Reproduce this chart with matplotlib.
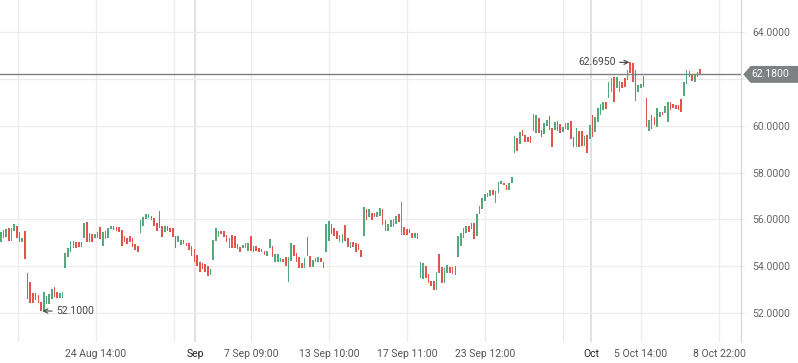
import matplotlib
matplotlib.use("Agg")
import matplotlib.pyplot as plt
import matplotlib.transforms as mtransforms
from matplotlib.patches import Polygon
import numpy as np

# candle open / close values, oldest first
opens = [
    55.04, 55.21, 55.25, 55.64, 55.08, 55.51, 55.72, 55.47, 55.04, 55.51,
    53.72, 53.34, 52.87, 52.87, 52.78, 52.48, 52.10, 52.40, 52.40, 52.61,
    53.12, 52.91, 52.65, 52.65, 53.93, 54.40, 54.61, 54.78, 55.04, 55.04,
    55.04, 55.21, 55.89, 55.42, 55.38, 55.21, 55.21, 55.68, 54.87, 55.17,
    55.21, 55.61, 55.72, 55.68, 55.68, 55.55, 55.29, 55.21, 55.29, 55.21,
    54.95, 54.87, 55.42, 55.72, 56.02, 56.06, 56.15, 56.06, 55.85, 56.36,
    55.72, 55.47, 55.72, 55.64, 55.64, 55.29, 55.04,
    54.91, 55.13, 55.00, 55.00, 54.87, 54.74, 54.49, 54.19, 54.15, 54.10,
    54.02, 53.63, 54.27, 55.08, 55.25, 55.51, 55.51, 55.34, 54.78, 55.34,
    55.29, 54.95, 54.83, 54.78, 54.78, 54.66, 55.29, 54.87, 54.87, 54.78,
    54.74, 54.66, 54.44, 54.78, 54.87, 54.19, 54.19, 54.19, 54.32, 54.40,
    53.34, 54.23, 54.91, 54.57, 54.40, 54.15, 53.93, 55.25, 54.44, 53.97,
    54.19, 54.19, 54.36, 54.19, 54.61, 55.08, 55.81, 55.64, 55.51, 55.04,
    55.00, 55.77, 55.21, 54.78, 55.04, 55.00, 54.95, 54.70,
    55.29, 56.45, 56.11, 56.28, 56.28, 56.11, 56.15, 56.45, 55.98, 55.51,
    55.68, 55.68, 55.81, 56.23, 55.34, 55.68, 55.61, 55.61, 55.42, 55.21,
    55.42, 53.51, 53.48, 54.02, 53.68, 53.38, 53.38, 53.00, 54.53, 53.97,
    53.29, 53.72, 53.97, 53.97, 54.02, 54.40, 54.87, 55.21, 55.42, 55.72,
    55.85, 55.85, 55.29, 56.23, 56.45, 56.79, 56.96, 57.00, 57.26, 56.70,
    57.13, 57.51, 57.55, 57.47, 57.26, 57.55,
    58.83, 59.47, 59.22, 59.81, 59.60, 59.51, 59.56, 59.77, 59.68, 60.32,
    59.81, 59.64, 59.98, 60.41, 59.90, 59.81, 60.20, 60.07, 59.73, 59.86,
    59.81, 60.20, 59.51, 59.09, 59.77, 59.77, 59.13, 59.60, 59.43,
    60.45, 59.73, 60.15, 60.45, 60.67, 61.01, 61.18, 61.43, 62.07, 61.60,
    61.43, 61.86, 62.03, 61.94, 62.695, 62.68, 62.37, 61.43, 61.60, 62.11,
    61.18, 59.77, 60.45, 60.37, 59.94, 60.37, 60.58, 60.54, 60.15, 61.01,
    60.92, 60.88, 60.88, 61.13, 61.26, 61.77, 62.33, 62.16, 61.86, 62.07,
    62.41,
]
closes = [
    55.47, 55.55, 55.61, 55.08, 55.64, 55.81, 55.21, 55.04, 55.21, 54.32,
    52.61, 52.44, 52.44, 52.57, 52.44, 52.10, 52.91, 52.74, 52.83, 53.04,
    52.70, 52.65, 52.87, 52.91, 54.57, 54.78, 55.08, 55.08, 54.78, 54.83,
    54.83, 55.85, 55.04, 55.04, 55.04, 55.38, 55.47, 55.17, 55.47, 55.51,
    55.64, 55.72, 55.55, 55.51, 55.47, 54.87, 55.04, 54.95, 55.04, 54.83,
    54.70, 54.61, 55.98, 56.11, 56.23, 56.23, 55.98, 55.72, 55.51, 55.64,
    55.25, 55.72, 55.51, 55.47, 55.25, 54.78, 55.29,
    55.13, 54.95, 54.87, 54.70, 54.44, 54.19, 54.02, 53.76, 53.89, 53.76,
    53.59, 53.89, 55.13, 55.64, 55.51, 55.38, 55.25, 55.04, 55.21, 54.78,
    54.78, 54.74, 54.61, 54.91, 55.00, 55.00, 54.66, 54.61, 54.66, 54.61,
    54.61, 54.49, 54.66, 55.17, 54.40, 54.53, 54.53, 54.36, 54.19, 54.02,
    54.40, 55.00, 54.44, 54.19, 53.93, 53.93, 54.36, 54.44, 53.97, 54.27,
    54.36, 54.40, 54.19, 53.93, 55.81, 55.93, 55.38, 55.29, 55.17, 55.34,
    55.38, 55.08, 54.83, 55.04, 54.83, 54.61, 54.70, 54.40,
    56.53, 55.98, 56.45, 55.98, 56.11, 56.32, 56.49, 55.77, 55.51, 55.81,
    55.98, 56.02, 56.15, 55.89, 56.74, 55.34, 55.34, 55.42, 55.21, 55.42,
    55.17, 54.19, 54.15, 53.51, 53.29, 53.17, 53.00, 53.76, 53.72, 53.29,
    53.93, 54.06, 53.72, 53.68, 53.63, 55.29, 55.42, 55.64, 55.72, 55.47,
    55.61, 55.17, 56.23, 56.57, 56.92, 57.09, 57.13, 57.26, 57.04, 57.21,
    57.60, 57.64, 57.47, 57.26, 57.55, 57.81,
    59.56, 58.92, 59.73, 59.56, 59.30, 59.30, 59.26, 60.49, 60.45, 59.68,
    59.51, 60.11, 60.24, 59.81, 59.09, 60.15, 59.77, 59.68, 59.94, 60.11,
    60.11, 59.43, 59.09, 59.90, 59.09, 59.13, 59.56, 58.83, 60.03,
    59.51, 60.37, 60.75, 60.92, 61.01, 60.71, 61.86, 62.03, 61.01, 62.07,
    61.90, 61.60, 61.64, 62.37, 62.24, 61.86, 61.05, 61.73, 61.77, 61.64,
    59.94, 60.24, 59.86, 60.03, 60.75, 60.58, 60.45, 60.83, 61.01, 60.67,
    60.75, 60.71, 60.67, 60.58, 61.86, 62.37, 62.07, 61.90, 62.20, 62.28,
    62.18,
]

y_ticks = [52, 54, 56, 58, 60, 62, 64]
x_labels = ["24 Aug 14:00", "7 Sep 09:00", "13 Sep 10:00", "17 Sep 11:00",
            "23 Sep 12:00", "5 Oct 14:00", "8 Oct 22:00"]
x_label_pos = [35.4, 93.0, 122.0, 151.0, 180.0, 238.0, 267.0]
x_grid_extra = [6.4, 64.4, 209.0]
month_labels = ["Sep", "Oct"]
month_pos = [72.4, 219.4]

last_price = closes[-1]
low_idx, low_price = 15, 52.10
high_idx, high_price = 234, 62.695

GREEN = "#53a87c"
RED = "#e5534e"
GRID = "#ececec"

plt.rcParams["font.family"] = ["Roboto", "DejaVu Sans"]

fig = plt.figure(figsize=(7.98, 3.63), dpi=100)
ax = fig.add_axes([0, 21 / 363, 741 / 798, 342 / 363])

o = np.array(opens)
c = np.array(closes)
x = np.arange(len(o))
cols = [GREEN if cc >= oo else RED for oo, cc in zip(o, c)]
ax.bar(x, np.abs(c - o), bottom=np.minimum(o, c), width=0.6,
       color=cols, linewidth=0, zorder=3)

ax.set_xlim(-0.26, 275.2)
ax.set_ylim(50.78, 65.35)

# grid
for p in x_label_pos + x_grid_extra:
    ax.axvline(p, color=GRID, lw=0.9, zorder=0)
for p in month_pos:
    ax.axvline(p, color="#dcdee1", lw=1.3, zorder=0)
ax.yaxis.tick_right()
ax.set_yticks(y_ticks)
# the price tag covers the label closest to the last price
ax.set_yticklabels(["" if abs(v - last_price) < 0.5 else "%.4f" % v for v in y_ticks])
ax.grid(axis="y", color=GRID, lw=0.9, zorder=0)
ax.tick_params(axis="y", length=3, color=GRID, pad=5, labelsize=7.5,
               labelcolor="#666666")

ax.set_xticks(x_label_pos + month_pos)
ax.set_xticklabels(x_labels + month_labels)
ax.tick_params(axis="x", length=0, pad=5, labelsize=7.5, labelcolor="#555555")
for lbl in ax.get_xticklabels()[-2:]:
    lbl.set_color("#222222")

for s in ["top", "left", "bottom"]:
    ax.spines[s].set_visible(False)
ax.spines["right"].set_color("#d4d4d4")

# last price line and tag
ax.axhline(last_price, color="#7f7f7f", lw=1.0, zorder=4)
blend = mtransforms.blended_transform_factory(ax.transAxes, ax.transData)
h = 0.36
tag = Polygon([(1.003, last_price), (1.013, last_price + h), (1.09, last_price + h),
               (1.09, last_price - h), (1.013, last_price - h)],
              closed=True, transform=blend, clip_on=False,
              facecolor="#7d8181", edgecolor="none", zorder=5)
ax.add_patch(tag)
ax.text(1.04, last_price, "%.4f" % last_price, transform=blend, color="white",
        ha="center", va="center", fontsize=7.5, zorder=6, clip_on=False)

# high / low markers
ax.annotate("%.4f" % low_price, xy=(low_idx + 0.5, low_price),
            xytext=(10, 0), textcoords="offset points", ha="left", va="center",
            fontsize=7.5, color="#444444",
            arrowprops=dict(arrowstyle="->", color="#444444", lw=0.8,
                            shrinkA=1, shrinkB=0))
ax.annotate("%.4f" % high_price, xy=(high_idx - 0.3, high_price),
            xytext=(-10, 0), textcoords="offset points", ha="right", va="center",
            fontsize=7.5, color="#444444",
            arrowprops=dict(arrowstyle="->", color="#444444", lw=0.8,
                            shrinkA=1, shrinkB=0))

fig.savefig("out.png", dpi=100)
